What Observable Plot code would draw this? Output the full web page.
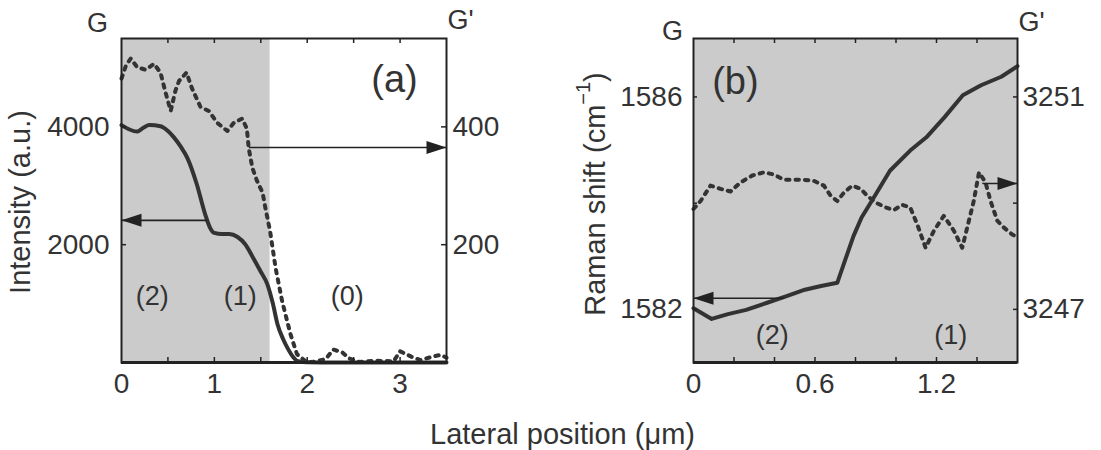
<!DOCTYPE html>
<html><head><meta charset="utf-8">
<script src="https://cdn.jsdelivr.net/npm/d3@7"></script>
<script src="https://cdn.jsdelivr.net/npm/@observablehq/plot@0.6"></script>
<style>
body{margin:0;background:#fff;}
#wrap{position:relative;width:1101px;height:450px;font-family:"Liberation Sans",Arial,Helvetica,sans-serif;color:#333;}
#a{position:absolute;left:0;top:0}
#b{position:absolute;left:550px;top:0}
#xl{position:absolute;left:0;width:1125px;text-align:center;top:420px;font-size:29px;line-height:29px;color:#333;}
</style></head><body>
<div id="wrap"><div id="a"></div><div id="b"></div><div id="xl">Lateral position (μm)</div></div>
<script>
// ---------- Panel (a) data ----------
const aPosG  = [0, 0.08, 0.17, 0.24, 0.3, 0.42, 0.5, 0.56, 0.64, 0.71, 0.81, 0.9, 0.95, 1.0, 1.08, 1.16, 1.25, 1.33, 1.42, 1.5, 1.57, 1.63, 1.68, 1.74, 1.79, 1.85, 1.9, 2.0, 2.3, 2.6, 3.0, 3.5];
const aG     = [4030, 3960, 3920, 3990, 4030, 4010, 3930, 3830, 3660, 3470, 3030, 2520, 2300, 2200, 2180, 2180, 2130, 2010, 1770, 1540, 1330, 1000, 650, 400, 240, 90, 20, 5, 0, 0, 0, 0];
const aPosGp = [0, 0.05, 0.1, 0.17, 0.26, 0.35, 0.42, 0.47, 0.53, 0.58, 0.62, 0.7, 0.76, 0.85, 0.94, 1.03, 1.14, 1.21, 1.3, 1.35, 1.37, 1.41, 1.46, 1.52, 1.55, 1.6, 1.66, 1.73, 1.82, 1.89, 2.0, 2.1, 2.2, 2.28, 2.38, 2.45, 2.56, 2.74, 2.93, 3.0, 3.12, 3.22, 3.35, 3.44, 3.5];
const aGp    = [482, 505, 516, 501, 497, 507, 492, 461, 427, 461, 478, 492, 465, 434, 427, 407, 393, 407, 414, 397, 364, 330, 308, 288, 262, 223, 160, 104, 48, 14, 0, 2, 6, 22, 17, 7, 1, 3, 2, 19, 10, 4, 10, 13, 8];
const aXDomain = [0, 3.5];
const aGDomain = [0, 5500];
const aGpScale = 10;               // G' axis = G axis / 10
const aShade = [0, 1.6];
const aXTickLabels = [0, 1, 2, 3];
const aXTicks = [0.5, 1, 1.5, 2, 2.5, 3];
const aGTicks = [2000, 4000];
const aGpTicks = [200, 400];
const aArrows = [
  {x1: 1.372, y1: 3649, x2: 3.5, y2: 3649, dir: "right"},
  {x1: 0.923, y1: 2413, x2: 0,   y2: 2413, dir: "left"}
];
const aRegions = [
  {x: 0.33, y: 1124, t: "(2)"},
  {x: 1.28, y: 1124, t: "(1)"},
  {x: 2.43, y: 1124, t: "(0)"}
];
const aPanel = [{x: 2.94, y: 4793, t: "(a)"}];

// ---------- Panel (b) data ----------
const bPosG  = [0, 0.09, 0.17, 0.26, 0.36, 0.46, 0.55, 0.63, 0.71, 0.75, 0.79, 0.83, 0.88, 0.97, 1.07, 1.15, 1.24, 1.33, 1.42, 1.52, 1.6];
const bG     = [1582.02, 1581.82, 1581.91, 1581.99, 1582.12, 1582.25, 1582.37, 1582.44, 1582.5, 1582.94, 1583.38, 1583.73, 1584.04, 1584.61, 1584.99, 1585.24, 1585.62, 1586.03, 1586.22, 1586.38, 1586.58];
const bPosGp = [0, 0.035, 0.084, 0.133, 0.183, 0.232, 0.29, 0.347, 0.397, 0.446, 0.495, 0.545, 0.594, 0.644, 0.677, 0.71, 0.743, 0.784, 0.826, 0.858, 0.9, 0.949, 0.99, 1.03, 1.07, 1.105, 1.146, 1.187, 1.236, 1.286, 1.327, 1.36, 1.384, 1.41, 1.442, 1.467, 1.5, 1.533, 1.574, 1.6];
const bGp    = [3248.89, 3249.04, 3249.33, 3249.27, 3249.22, 3249.39, 3249.52, 3249.58, 3249.54, 3249.44, 3249.44, 3249.44, 3249.42, 3249.33, 3249.14, 3249.04, 3249.2, 3249.33, 3249.27, 3249.14, 3249.01, 3248.92, 3248.87, 3248.97, 3248.92, 3248.6, 3248.16, 3248.48, 3248.76, 3248.48, 3248.16, 3248.67, 3249.04, 3249.58, 3249.39, 3249.04, 3248.67, 3248.54, 3248.41, 3248.36];
const bXDomain = [0, 1.6];
const bGDomain = [1581, 1587.1];
const bGpOffset = 1665;            // G' axis = G axis + 1665
const bShade = [0, 1.6];
const bXTickLabels = [0, 0.6, 1.2];
const bXTicks = [0.2, 0.4, 0.6, 0.8, 1.0, 1.2, 1.4];
const bGTicks = [1582, 1586];
const bGMinor = [1582, 1584, 1586];
const bGpTicks = [3247, 3251];
const bGpMinor = [3247, 3249, 3251];
const bArrows = [
  {x1: 1.426, y1: 3249.37 - 1665, x2: 1.6, y2: 3249.37 - 1665, dir: "right"},
  {x1: 0.446, y1: 1582.21, x2: 0, y2: 1582.21, dir: "left"}
];
const bRegions = [
  {x: 0.389, y: 1581.52, t: "(2)"},
  {x: 1.27,  y: 1581.52, t: "(1)"}
];
const bPanel = [{x: 0.207, y: 1586.28, t: "(b)"}];
const bYTitle = ["Raman shift (cm", "−1", ")"];

// ---------- styling ----------
const INK = "#333";
const FRAME = "#222";
const SHADE = "#cbcbcb";
const FONT = "'Liberation Sans', Arial, Helvetica, sans-serif";
const FW = 325, FH = 324;  // frame size in px
const TL = 5;              // inward tick length
const DOTS = "3.4,6";

function head(dir) {
  const L = 20, Wd = 6.5, s = dir === "right" ? 1 : -1;
  return {draw(ctx) { ctx.moveTo(0, 0); ctx.lineTo(-s * L, -Wd); ctx.lineTo(-s * L, Wd); ctx.closePath(); }};
}
function arrowMarks(arr) {
  return [
    Plot.link(arr, {x1: "x1", y1: "y1", x2: "x2", y2: "y2", stroke: FRAME, strokeWidth: 1.6}),
    Plot.dot(arr.filter(d => d.dir === "right"), {x: "x2", y: "y2", symbol: head("right"), fill: FRAME, stroke: "none", r: 5}),
    Plot.dot(arr.filter(d => d.dir === "left"), {x: "x2", y: "y2", symbol: head("left"), fill: FRAME, stroke: "none", r: 5})
  ];
}
function zipXY(xs, ys, f = v => v) { return xs.map((x, i) => ({x, v: f(ys[i])})); }
const centered = {textAnchor: "middle", lineAnchor: "middle"};

const plotA = Plot.plot({
  width: 550, height: 400,
  marginLeft: 121, marginRight: 104, marginTop: 38, marginBottom: 38,
  x: {domain: aXDomain},
  y: {domain: aGDomain},
  style: {fontFamily: FONT, color: INK, background: "transparent", overflow: "visible"},
  marks: [
    Plot.rect([aShade], {x1: d => d[0], x2: d => d[1], fill: SHADE}),
    Plot.line(zipXY(aPosGp, aGp, v => v * aGpScale), {x: "x", y: "v", stroke: INK, strokeWidth: 4, strokeDasharray: DOTS}),
    Plot.line(zipXY(aPosG, aG), {x: "x", y: "v", stroke: INK, strokeWidth: 4, curve: "monotone-x"}),
    ...arrowMarks(aArrows),
    Plot.tickX(aXTicks, {x: d => d, insetTop: FH - TL, stroke: FRAME, strokeWidth: 1.5}),
    Plot.tickX(aXTicks, {x: d => d, insetBottom: FH - TL, stroke: FRAME, strokeWidth: 1.5}),
    Plot.tickY(aGTicks, {y: d => d, insetRight: FW - TL, stroke: FRAME, strokeWidth: 1.5}),
    Plot.tickY(aGpTicks, {y: d => d * aGpScale, insetLeft: FW - TL, stroke: FRAME, strokeWidth: 1.5}),
    Plot.frame({stroke: FRAME, strokeWidth: 2}),
    Plot.ruleY([aGDomain[0]], {stroke: FRAME, strokeWidth: 3}),
    Plot.axisX({ticks: aXTickLabels, tickSize: 0, tickPadding: 11, fontSize: 28, label: null, tickFormat: d => String(d)}),
    Plot.axisY({anchor: "left", ticks: aGTicks, tickSize: 0, tickPadding: 12, fontSize: 28, label: null, tickFormat: d => String(d)}),
    Plot.axisY({anchor: "right", ticks: aGpTicks.map(v => v * aGpScale), tickSize: 0, tickPadding: 6, fontSize: 28, label: null, tickFormat: d => String(d / aGpScale)}),
    Plot.text(aRegions, {x: "x", y: "y", text: "t", fontSize: 27, fill: INK}),
    Plot.text(aPanel, {x: "x", y: "y", text: "t", fontSize: 38, fill: INK}),
    Plot.text(["G"], {text: d => d, frameAnchor: "top-left", dx: -24, dy: -15.5, fontSize: 27, fill: INK, ...centered}),
    Plot.text(["G'"], {text: d => d, frameAnchor: "top-right", dx: 14, dy: -18, fontSize: 27, fill: INK, ...centered}),
    Plot.text(["Intensity (a.u.)"], {text: d => d, frameAnchor: "left", dx: -100.5, dy: 1.5, rotate: -90, fontSize: 29, fill: INK, ...centered})
  ]
});
document.getElementById("a").appendChild(plotA);

const plotB = Plot.plot({
  width: 551, height: 400,
  marginLeft: 143, marginRight: 84, marginTop: 38, marginBottom: 38,
  x: {domain: bXDomain},
  y: {domain: bGDomain},
  style: {fontFamily: FONT, color: INK, background: "transparent", overflow: "visible"},
  marks: [
    Plot.rect([bShade], {x1: d => d[0], x2: d => d[1], fill: SHADE}),
    Plot.line(zipXY(bPosGp, bGp, v => v - bGpOffset), {x: "x", y: "v", stroke: INK, strokeWidth: 4, strokeDasharray: DOTS}),
    Plot.line(zipXY(bPosG, bG), {x: "x", y: "v", stroke: INK, strokeWidth: 4}),
    ...arrowMarks(bArrows),
    Plot.tickX(bXTicks, {x: d => d, insetTop: FH - TL, stroke: FRAME, strokeWidth: 1.5}),
    Plot.tickX(bXTicks, {x: d => d, insetBottom: FH - TL, stroke: FRAME, strokeWidth: 1.5}),
    Plot.tickY(bGMinor, {y: d => d, insetRight: FW - TL, stroke: FRAME, strokeWidth: 1.5}),
    Plot.tickY(bGpMinor, {y: d => d - bGpOffset, insetLeft: FW - TL, stroke: FRAME, strokeWidth: 1.5}),
    Plot.frame({stroke: FRAME, strokeWidth: 2}),
    Plot.ruleY([bGDomain[0]], {stroke: FRAME, strokeWidth: 3}),
    Plot.axisX({ticks: bXTickLabels, tickSize: 0, tickPadding: 11, fontSize: 28, label: null, tickFormat: d => String(d)}),
    Plot.axisY({anchor: "left", ticks: bGTicks, tickSize: 0, tickPadding: 11, fontSize: 28, label: null, tickFormat: d => String(d)}),
    Plot.axisY({anchor: "right", ticks: bGpTicks.map(v => v - bGpOffset), tickSize: 0, tickPadding: 5, fontSize: 28, label: null, tickFormat: d => String(Math.round(d + bGpOffset))}),
    Plot.text(bRegions, {x: "x", y: "y", text: "t", fontSize: 27, fill: INK}),
    Plot.text(bPanel, {x: "x", y: "y", text: "t", fontSize: 38, fill: INK}),
    Plot.text(["G"], {text: d => d, frameAnchor: "top-left", dx: -21, dy: -7, fontSize: 27, fill: INK, ...centered}),
    Plot.text(["G'"], {text: d => d, frameAnchor: "top-right", dx: 14, dy: -16, fontSize: 27, fill: INK, ...centered}),
    Plot.text([bYTitle.join("")], {text: d => d, frameAnchor: "left", dx: -98, dy: -6.5, rotate: -90, fontSize: 29, fill: INK, ...centered})
  ]
});
// turn the y title's exponent into a real superscript
for (const t of plotB.querySelectorAll("text")) {
  if (t.textContent === bYTitle.join("")) {
    t.textContent = "";
    const ns = "http://www.w3.org/2000/svg";
    const parts = [
      {s: bYTitle[0]},
      {s: bYTitle[1], dy: "-0.55em", size: "20px"},
      {s: bYTitle[2], dy: "0.55em"}
    ];
    // dy in em of the tspan's own font size: keep shift symmetric in px
    parts[1].dy = "-15px"; parts[2].dy = "15px";
    for (const p of parts) {
      const ts = document.createElementNS(ns, "tspan");
      ts.textContent = p.s;
      if (p.dy) ts.setAttribute("dy", p.dy);
      if (p.size) ts.setAttribute("font-size", p.size);
      t.appendChild(ts);
    }
  }
}
document.getElementById("b").appendChild(plotB);
</script>
</body></html>
